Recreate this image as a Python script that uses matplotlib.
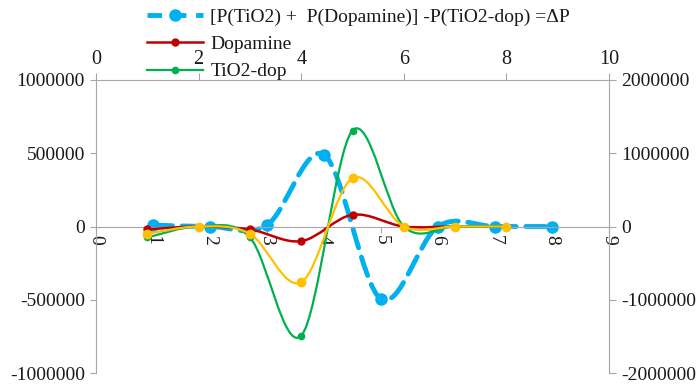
import matplotlib
matplotlib.use('Agg')
import matplotlib.pyplot as plt
from matplotlib.path import Path
from matplotlib.patches import PathPatch
from matplotlib.lines import Line2D

plt.rcParams['font.family'] = ['Liberation Serif', 'DejaVu Serif']
plt.rcParams['font.size'] = 14.5

# primary axes: bottom x (0-9), left y
delta_x = [1, 2, 3, 4, 5, 6, 7, 8]
delta_p = [10000, 0, 10000, 490000, -495000, 0, 0, 0]

# secondary axes: top x (0-10), right y
sec_x = [1, 2, 3, 4, 5, 6, 7, 8]
dopamine = [-40000, 0, -40000, -200000, 160000, 0, 0, 0]
tio2_dop = [-150000, 0, -150000, -1490000, 1310000, 0, 0, 0]
tio2 = [-100000, 0, -100000, -760000, 660000, 0, 0, 0]

left_ticks = [-1000000, -500000, 0, 500000, 1000000]
right_ticks = [-2000000, -1000000, 0, 1000000, 2000000]
bottom_ticks = [0, 1, 2, 3, 4, 5, 6, 7, 8, 9]
top_ticks = [0, 2, 4, 6, 8, 10]

legend_labels = ['[P(TiO2) +  P(Dopamine)] -P(TiO2-dop) =\u0394P',
                 'Dopamine', 'TiO2-dop']

BLUE = '#00b0f0'
RED = '#c00000'
GREEN = '#00b050'
YELLOW = '#ffc000'
GREY = '#a6a6a6'
TEXT = '#1a1a1a'


def smooth_path(xs, ys):
    # excel-like smoothed line (catmull-rom as bezier segments)
    pts = list(zip(xs, ys))
    n = len(pts)
    verts = [pts[0]]
    codes = [Path.MOVETO]
    for i in range(n - 1):
        p0 = pts[max(i - 1, 0)]
        p1 = pts[i]
        p2 = pts[i + 1]
        p3 = pts[min(i + 2, n - 1)]
        c1 = (p1[0] + (p2[0] - p0[0]) / 6, p1[1] + (p2[1] - p0[1]) / 6)
        c2 = (p2[0] - (p3[0] - p1[0]) / 6, p2[1] - (p3[1] - p1[1]) / 6)
        verts += [c1, c2, p2]
        codes += [Path.CURVE4] * 3
    return Path(verts, codes)


def draw_series(ax, xs, ys, color, lw, ms, ls='-'):
    ax.add_patch(PathPatch(smooth_path(xs, ys), fill=False, edgecolor=color,
                           lw=lw, linestyle=ls, capstyle='round'))
    ax.plot(xs, ys, 'o', color=color, ms=ms, mec=color)


fig = plt.figure(figsize=(7, 3.85), dpi=100)
pos = [96 / 700, 12 / 385, 513 / 700, 293 / 385]
ax = fig.add_axes(pos)
ax2 = fig.add_axes(pos, label='secondary')
ax2.patch.set_visible(False)

# primary
ax.set_xlim(0, 9)
ax.set_ylim(-1000000, 1000000)
ax.spines['top'].set_visible(False)
ax.spines['right'].set_visible(False)
ax.spines['bottom'].set_position(('data', 0))
for s in ['left', 'bottom']:
    ax.spines[s].set_color(GREY)
ax.set_xticks(bottom_ticks)
ax.set_xticklabels([str(t) for t in bottom_ticks], rotation=-90,
                   ha='center', va='top', fontsize=14)
ax.set_yticks(left_ticks)
ax.set_yticklabels([str(t) for t in left_ticks])
ax.tick_params(axis='x', direction='out', length=4, color=GREY, pad=2,
               labelcolor=TEXT)
ax.tick_params(axis='y', direction='out', length=4, color=GREY, pad=4,
               labelcolor=TEXT, labelsize=14)

draw_series(ax, delta_x, delta_p, BLUE, 3.5, 8, ls=(0, (4, 2)))

# secondary
ax2.set_xlim(0, 10)
ax2.set_ylim(-2000000, 2000000)
ax2.xaxis.tick_top()
ax2.yaxis.tick_right()
ax2.spines['left'].set_visible(False)
ax2.spines['bottom'].set_visible(False)
for s in ['top', 'right']:
    ax2.spines[s].set_color(GREY)
ax2.set_xticks(top_ticks)
ax2.set_xticklabels([str(t) for t in top_ticks])
ax2.set_yticks(right_ticks)
ax2.set_yticklabels([str(t) for t in right_ticks])
ax2.tick_params(axis='x', direction='out', length=5, color=GREY, pad=3,
                labelcolor=TEXT)
ax2.tick_params(axis='y', direction='out', length=5, color=GREY, pad=4,
                labelcolor=TEXT, labelsize=14)

draw_series(ax2, sec_x, dopamine, RED, 1.8, 5)
draw_series(ax2, sec_x, tio2_dop, GREEN, 1.6, 4.5)
draw_series(ax2, sec_x, tio2, YELLOW, 1.6, 6)

handles = [
    Line2D([], [], color=BLUE, lw=3.5, ls=(0, (3, 2)), marker='o', ms=8),
    Line2D([], [], color=RED, lw=1.8, marker='o', ms=5),
    Line2D([], [], color=GREEN, lw=1.6, marker='o', ms=4.5),
]
fig.legend(handles, legend_labels, loc='upper left',
           bbox_to_anchor=(147 / 700, 1 - 8 / 385), frameon=False,
           handlelength=2.9, handletextpad=0.35, labelspacing=0.5,
           borderpad=0, borderaxespad=0, labelcolor=TEXT, fontsize=14)

fig.savefig('out.png', dpi=100)
